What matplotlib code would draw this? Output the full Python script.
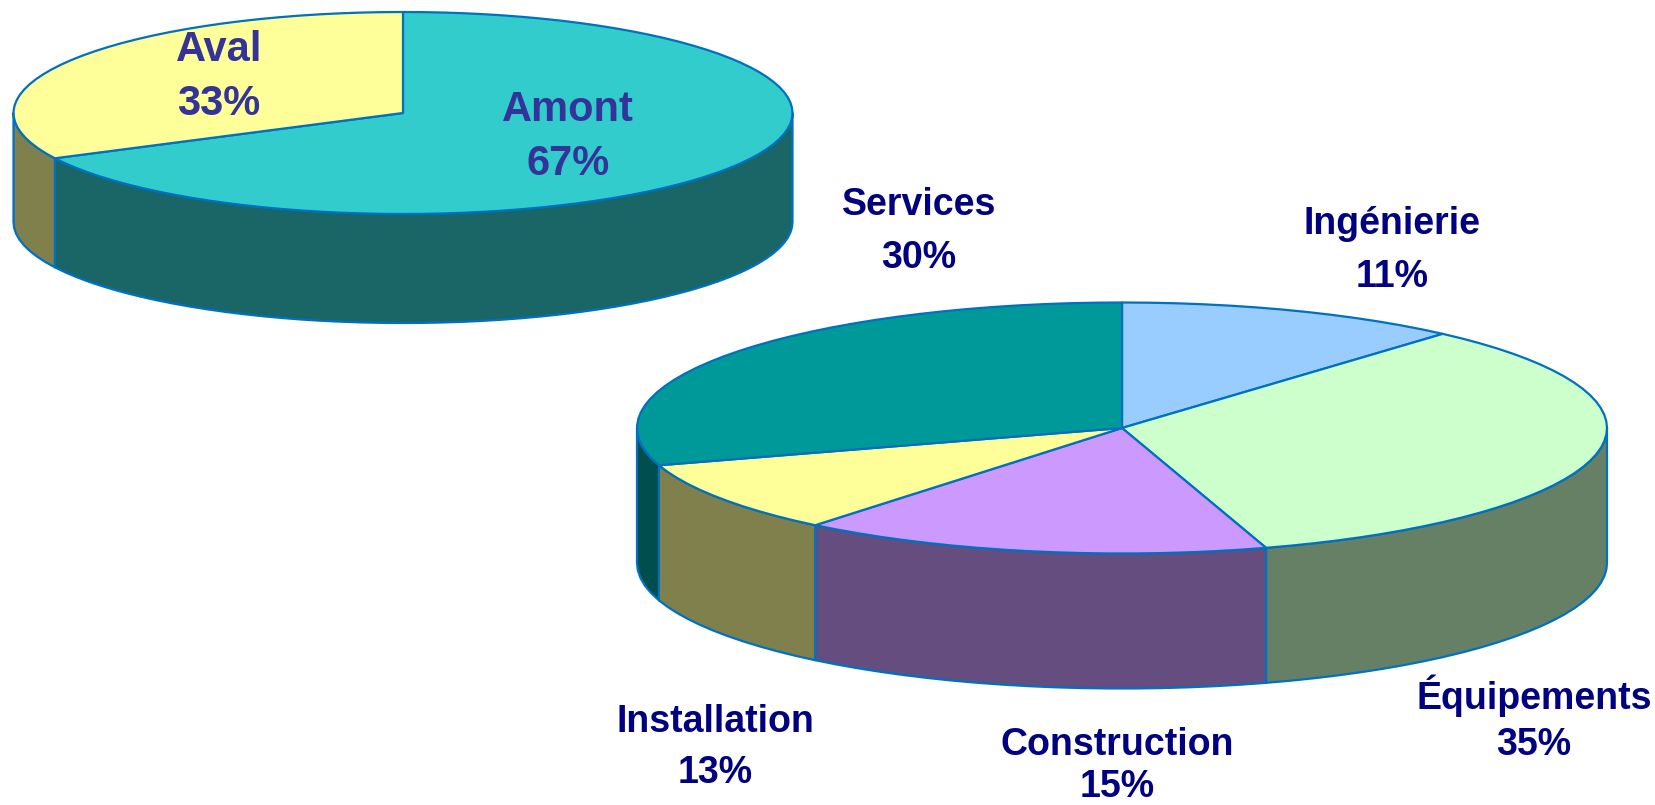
import numpy as np
import matplotlib
matplotlib.use("Agg")
import matplotlib.pyplot as plt
from matplotlib.patches import Polygon

W, H = 1655, 805
plt.rcParams['font.family'] = ['Liberation Sans', 'DejaVu Sans']

# Top-left pie
chain_names = ["Amont", "Aval"]
chain_labels = ["67%", "33%"]
chain_shares = [67.6, 32.4]
chain_top = ["#33CCCC", "#FFFF99"]
chain_side = ["#1A6666", "#80804D"]
chain_geom = dict(cx=403, cy=113, rx=389.5, ry=101, depth=109)
chain_text_x = [568, 219]
chain_text_y = [[121, 175], [61, 115]]

# Bottom-right pie
sector_names = ["Ingénierie", "Équipements", "Construction", "Installation", "Services"]
sector_labels = ["11%", "35%", "15%", "13%", "30%"]
sector_shares = [11.5, 33.7, 15.7, 9.3, 29.8]
sector_top = ["#99CCFF", "#CCFFCC", "#CC99FF", "#FFFF99", "#009999"]
sector_side = ["#4D6680", "#668066", "#664D80", "#80804D", "#004D4D"]
sector_geom = dict(cx=1122, cy=428, rx=485, ry=125.5, depth=135)
sector_text_x = [1392, 1534, 1117, 715, 919]
sector_text_y = [[234, 287], [709, 755], [755, 797], [732, 783], [215, 268]]

EDGE = "#0070C0"

fig = plt.figure(figsize=(W / 100, H / 100), dpi=100)
ax = fig.add_axes([0, 0, 1, 1])
ax.set_xlim(0, W)
ax.set_ylim(H, 0)
ax.axis("off")


def rim(g, a0, a1, n=3):
    """Rim points, angles in degrees clockwise from 12 o'clock."""
    m = max(2, int(abs(a1 - a0) / n) + 1)
    t = np.radians(np.linspace(a0, a1, m))
    return np.column_stack([g["cx"] + g["rx"] * np.sin(t), g["cy"] - g["ry"] * np.cos(t)])


def draw_pie(shares, tops, sides, g):
    edges = np.concatenate([[0], np.cumsum(shares)]) / np.sum(shares) * 360
    # visible outer walls: front half only
    for a0, a1, col in zip(edges[:-1], edges[1:], sides):
        lo, hi = max(a0, 90), min(a1, 270)
        if hi <= lo:
            continue
        upper = rim(g, lo, hi)
        lower = upper[::-1] + [0, g["depth"]]
        ax.add_patch(Polygon(np.vstack([upper, lower]), closed=True, fc=col, ec=EDGE,
                             lw=1.6, joinstyle="round", zorder=2))
    # top faces
    for a0, a1, col in zip(edges[:-1], edges[1:], tops):
        pts = np.vstack([[g["cx"], g["cy"]], rim(g, a0, a1)])
        ax.add_patch(Polygon(pts, closed=True, fc=col, ec=EDGE,
                             lw=1.6, joinstyle="round", zorder=3))


def draw_labels(names, labels, xs, ys, color, size):
    for name, lab, x, (y0, y1) in zip(names, labels, xs, ys):
        ax.text(x, y0, name, ha="center", va="baseline", color=color, fontsize=size,
                fontweight="bold", zorder=5)
        ax.text(x, y1, lab, ha="center", va="baseline", color=color, fontsize=size,
                fontweight="bold", zorder=5)


draw_pie(chain_shares, chain_top, chain_side, chain_geom)
draw_pie(sector_shares, sector_top, sector_side, sector_geom)
draw_labels(chain_names, chain_labels, chain_text_x, chain_text_y, "#333399", 30)
draw_labels(sector_names, sector_labels, sector_text_x, sector_text_y, "#000080", 27)

fig.savefig("out.png", dpi=100, facecolor="white")
